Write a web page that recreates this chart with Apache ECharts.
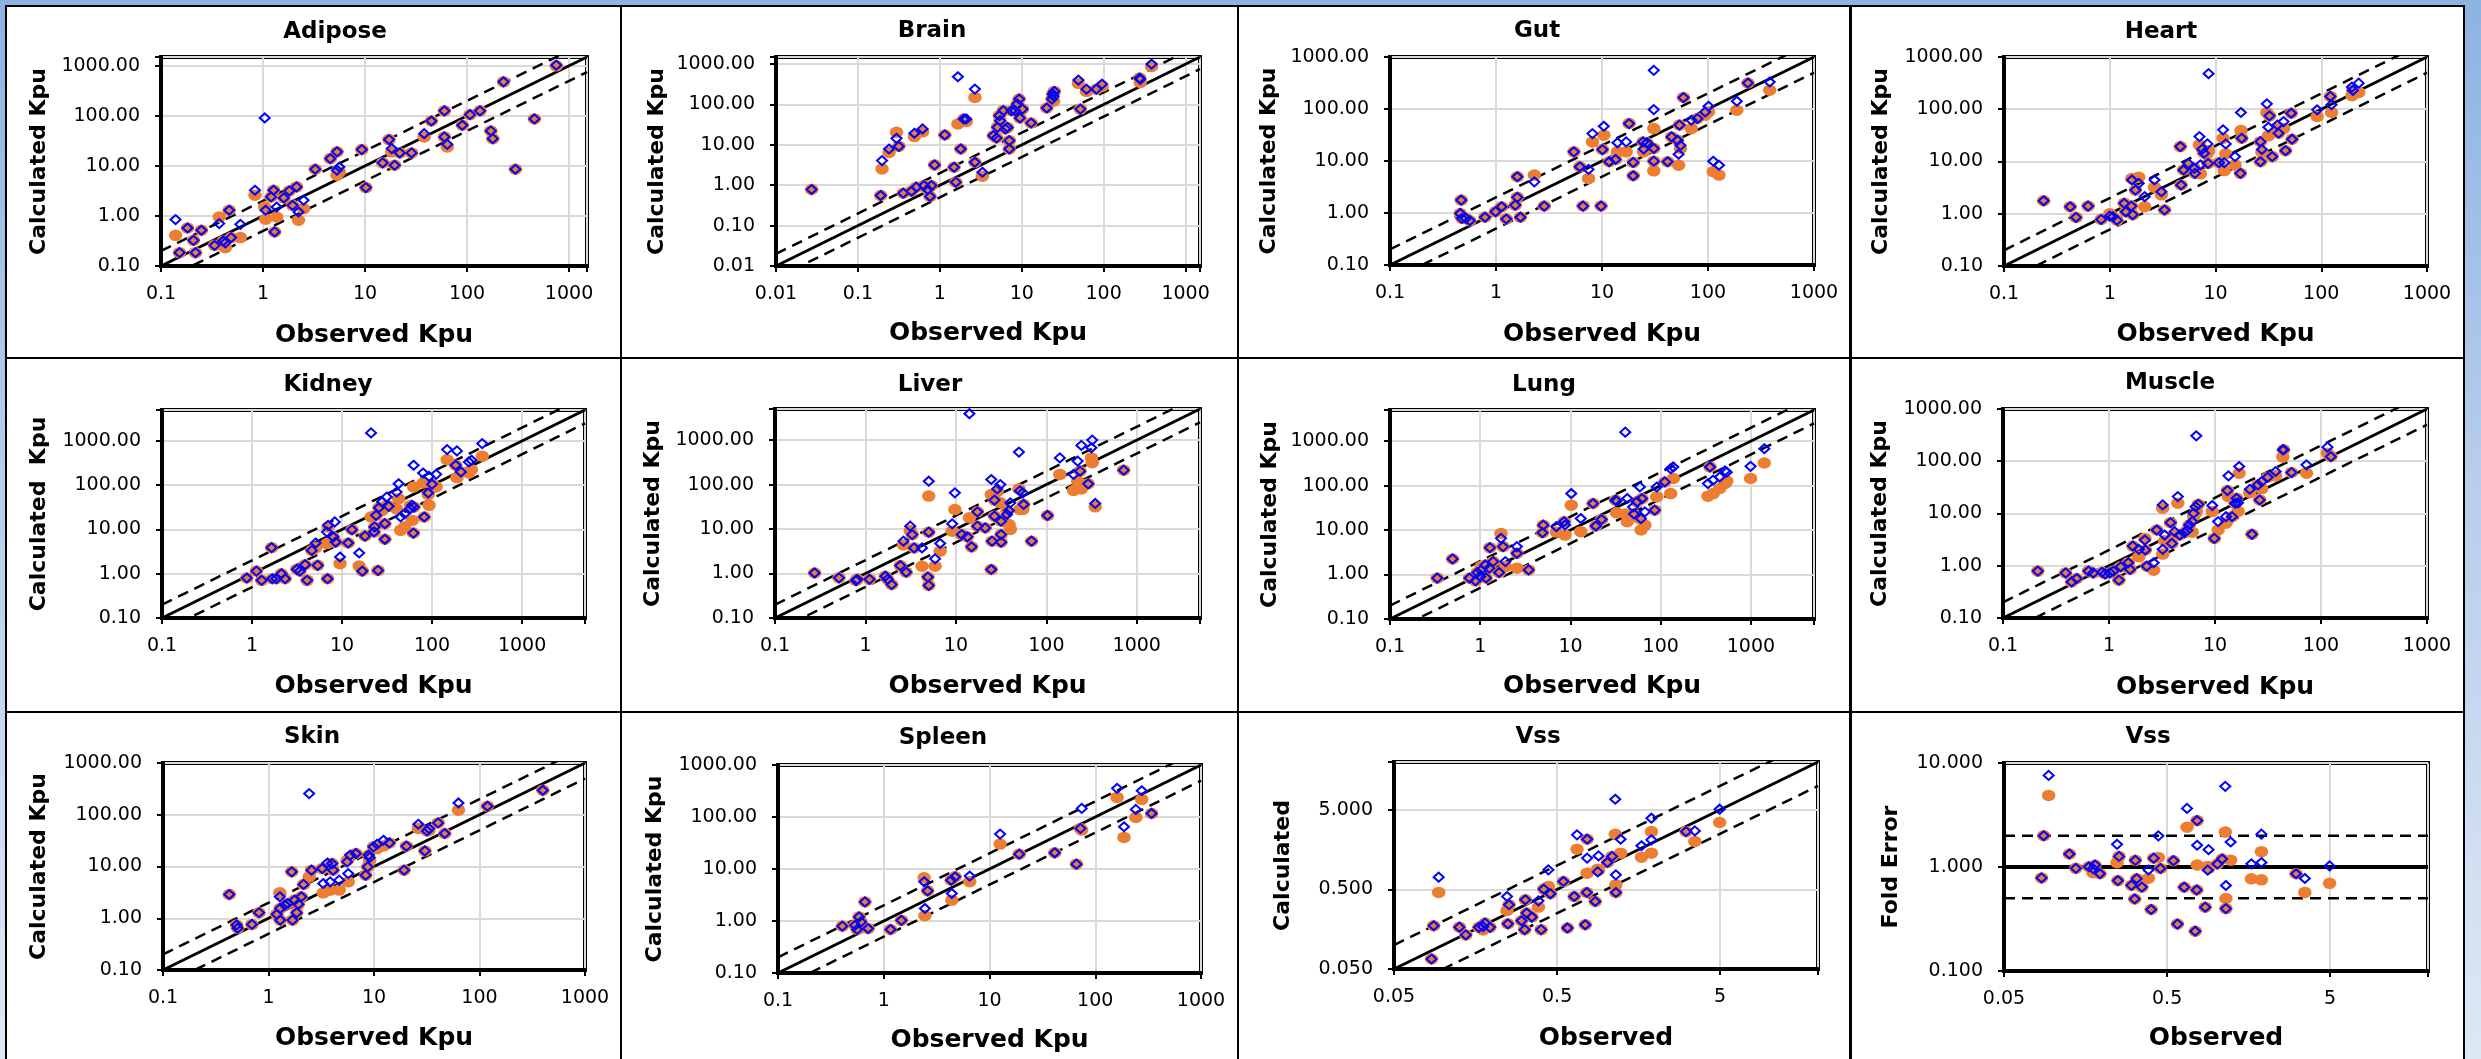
<!DOCTYPE html>
<html>
<head>
<meta charset="utf-8">
<script src="https://cdn.jsdelivr.net/npm/echarts@6/dist/echarts.min.js"></script>
<style>
  html, body { margin: 0; padding: 0; width: 2481px; height: 1059px; overflow: hidden; }
  body { position: relative; background: linear-gradient(to bottom, #8db3e2 0%, #b7cdeb 45%, #dde8f5 100%); }
  .panel { position: absolute; background: #ffffff; border: 2.5px solid #000; box-sizing: border-box; }
  #chart { position: absolute; left: 0; top: 0; width: 2481px; height: 1059px; }
</style>
</head>
<body>
<div id="panels"></div>
<div id="chart"></div>
<script>
// Tissue partition coefficients: each row is [observed Kpu, calculated (circle), calculated (diamond)]
const adipose = [
  [0.139,0.41,0.845],[0.152,0.185,0.185],[0.182,0.575,0.575],[0.208,0.326,0.326],[0.218,0.185,0.185],
  [0.249,0.517,0.517],[0.335,0.259,0.259],[0.372,0.955,0.703],[0.407,0.316,0.316],[0.427,0.233,0.29],
  [0.466,1.30,1.30],[0.487,0.369,0.369],[0.60,0.37,0.68],[0.834,2.59,3.26],[1.04,1.51,91],
  [1.06,0.857,1.30],[1.2,2.4,2.4],[1.27,3.26,3.26],[1.30,0.479,0.479],[1.36,0.955,1.51],
  [1.6,2.29,2.29],[1.81,3.16,3.16],[1.95,1.63,1.63],[2.13,3.8,3.8],[2.23,0.82,1.2],
  [2.5,1.4,2.06],[3.25,8.58,8.58],[4.57,14.0,14.0],[5.32,19.1,19.1],[5.3,6.5,8.2],
  [5.6,7.5,9.5],[9.3,21.2,21.2],[10.2,3.69,3.69],[14.9,11.5,11.5],[17.2,33.6,33.6],
  [18.3,19.1,22.2],[19.5,10.3,10.3],[21.9,18.2,18.2],[28.6,18.2,18.2],[38,38,44],
  [44.7,79,79],[60,126,126],[60,38,38],[64,24,27],[90,65,65],
  [107,106,106],[134,126,126],[171,50,50],[179,35,35],[228,479,479],
  [298,8.58,8.58],[458,87,87],[750,1000,1030]
];
const brain = [
  [0.0272,0.785,0.785],[0.19,0.557,0.557],[0.197,2.54,4.08],[0.24,6.5,7.9],[0.296,20.4,14.5],
  [0.316,9.2,9.2],[0.358,0.637,0.637],[0.452,0.713,0.713],[0.489,16,19.4],[0.517,0.895,0.895],
  [0.616,21,24.8],[0.64,0.98,0.98],[0.71,0.785,0.785],[0.76,0.525,0.525],[0.79,0.98,0.98],
  [0.863,3.19,3.19],[1.15,17.6,17.6],[1.49,2.79,2.79],[1.57,1.19,1.19],[1.66,32.9,487],
  [1.8,7.9,7.9],[1.96,43.7,43.7],[2.1,38,43.7],[2.68,150,241],[2.68,3.72,3.72],
  [3.31,1.67,2.1],[4.51,16.9,16.9],[4.93,14.8,14.8],[5.05,27.2,27.2],[5.33,52.8,52.8],
  [5.45,39.8,39.8],[5.96,70.3,70.3],[6.3,24.8,24.8],[6.7,27,27],[7.05,12.7,12.7],
  [7.05,7.9,7.9],[7.5,70,70],[8.3,70,70],[8.8,103,103],[9.3,136,136],
  [9.5,46.2,46.2],[10.2,77,77],[13,34.8,34.8],[20.2,81.8,81.8],[23.4,136,136],
  [23.9,182,182],[25,211,211],[24.5,120,160],[49.2,330,403],[52,77,77],
  [61.7,210,240],[81.5,240,240],[95.5,280,320],[275,451,451],[280,350,420],
  [385,870,1000]
];
const gut = [
  [0.47,1.77,1.77],[0.46,0.98,0.98],[0.477,0.79,0.79],[0.52,0.79,0.79],[0.567,0.71,0.71],
  [0.787,0.83,0.83],[0.99,1.06,1.06],[1.13,1.32,1.32],[1.25,0.766,0.766],[1.52,1.42,1.42],
  [1.59,4.98,4.98],[1.59,2.0,2.0],[1.7,0.83,0.83],[2.3,5.36,3.98],[2.85,1.36,1.36],
  [5.43,15,15],[6.18,7.74,7.74],[6.62,1.36,1.36],[7.46,4.62,6.9],[8.13,23.3,33.7],
  [9.8,1.36,1.36],[10.1,16.6,16.6],[10.4,31.4,46.6],[11.7,9.66,9.66],[13.4,10.7,10.7],
  [14,15,22.4],[16.9,15,23.3],[18,52.5,52.5],[19.7,9.4,9.4],[19.7,5.2,5.2],
  [24.4,23.3,23.3],[24.7,15,17],[26.6,22.4,22.4],[30.8,42,555],[30.8,6.46,97.5],
  [30.8,17.4,17.4],[30.8,9.93,9.93],[41.6,9.66,9.66],[45.4,29.1,29.1],[51.6,25,25],
  [52.8,8.3,13.5],[53.8,49,49],[58.7,166,166],[55,17.4,20],[69.7,42,60.8],
  [79.5,65.5,65.5],[94,76,88],[101,88,113],[112,6.2,9.9],[127,5.36,8.3],
  [187,94.6,141],[238,316,316],[382,229,331]
];
const heart = [
  [0.237,1.77,1.77],[0.423,1.36,1.36],[0.48,0.85,0.85],[0.624,1.4,1.4],[0.83,0.78,0.78],
  [1.0,1.0,0.9],[1.07,0.875,0.875],[1.17,0.755,0.755],[1.37,1.58,1.58],[1.42,1.09,1.09],
  [1.6,1.4,1.4],[1.62,4.75,4.43],[1.65,0.955,0.955],[1.75,2.84,2.84],[1.88,5.0,3.82],
  [2.14,1.36,2.12],[2.65,3.2,4.43],[3.08,2.3,2.64],[3.3,1.18,1.18],[4.65,19.3,19.3],
  [4.73,3.55,3.55],[4.98,6.87,6.87],[5.53,7.94,9.2],[6.3,7.4,7.4],[6.4,5.94,5.94],
  [7.05,20.8,30],[7.2,5.8,8.6],[7.5,17.2,17.2],[7.8,14.4,14.4],[8.4,14.4,21.7],
  [8.5,9.2,9.2],[8.6,16,479],[10.8,9.5,9.5],[11.8,27.9,40.3],[12.1,6.7,9.5],
  [12.5,14,21.7],[15.3,8.6,12.4],[17.4,39,86.7],[17.7,27.9,27.9],[17.2,5.94,5.94],
  [26.6,24,24],[26.6,9.9,9.9],[27.5,15,17],[30.6,86.7,127],[31.6,31,45.3],
  [32.4,74.8,74.8],[34.4,12.4,12.4],[38.5,43,50],[39.5,34.7,34.7],[44,43,58],
  [46,16.1,16.1],[52,84,84],[53,26.7,26.7],[91.5,72.6,97.5],[122,176,176],
  [125,86.7,122],[195,181,266],[199,229,229],[226,210,316]
];
const kidney = [
  [0.875,0.8,0.8],[1.12,1.15,1.15],[1.28,0.71,0.71],[1.65,3.88,3.88],[1.68,0.77,0.77],
  [1.86,0.77,0.77],[2.12,1.0,1.0],[2.33,0.77,0.77],[3.15,1.26,1.26],[3.4,1.15,1.15],
  [3.89,1.6,1.6],[4.09,0.71,0.71],[4.62,3.37,3.37],[5.1,3.9,4.94],[5.37,1.55,1.55],
  [6.8,4.8,8.8],[6.9,0.77,0.77],[7.0,11.3,12.4],[8.0,6.77,6.77],[8.3,5.2,14.8],
  [8.5,5.2,5.2],[9.5,1.69,2.39],[11.7,4.94,4.94],[12.9,9.9,9.9],[15.5,1.49,2.94],
  [16.8,1.15,1.15],[18,7.1,7.1],[21,19.1,1517],[22.7,8.8,8.8],[23,11.4,11.4],
  [23.9,20.9,20.9],[25.1,1.19,1.19],[25.7,30.9,30.9],[27.8,27,41.7],[29.9,13.5,13.5],
  [29.9,6.0,6.0],[31.4,35,54.2],[33,33.4,33.4],[40.4,29,70],[42.5,49.7,108],
  [44.7,9.55,19.1],[49.5,11.4,22.7],[57.5,35,29.5],[60,16,35],[62.4,91,282],
  [62,8.3,8.3],[63,32,32],[79.4,112,189],[81.8,19.1,19.1],[90.6,62,66.7],
  [92.6,35.1,158],[100,105,105],[111,91,176],[147,378,637],[183,282,282],
  [189,148,594],[209,200,200],[256,189,335],[274,224,366],[361,450,870]
];
const liver = [
  [0.274,1.03,1.03],[0.51,0.8,0.8],[0.787,0.695,0.695],[0.81,0.74,0.74],[1.11,0.74,0.74],
  [1.66,0.87,0.87],[1.76,0.74,0.74],[1.95,0.565,0.565],[2.43,1.51,1.51],[2.63,4.4,5.33],
  [2.82,1.07,1.07],[3.13,9.27,11.6],[3.29,7.5,7.5],[3.45,3.77,3.77],[4.22,1.46,3.77],
  [5.01,55,119],[5.01,8.5,8.5],[4.9,0.83,0.83],[5.01,0.54,0.54],[5.89,1.46,2.14],
  [6.7,3.16,4.73],[9.1,8.96,13.1],[9.75,27.5,65.3],[11.6,7.5,7.5],[13.4,6.68,6.68],
  [14.1,17.9,3917],[14.9,3.98,3.98],[17.3,24.4,24.4],[17.3,11.6,11.6],[21.1,10.6,10.6],
  [24.6,1.23,1.23],[24.6,59.8,130],[25.1,5.33,5.33],[26.7,44.7,44.7],[26.7,19.5,19.5],
  [28.6,70,80],[31,38.9,100],[31.6,15,15],[31.6,7.5,7.5],[31.6,5.07,5.07],
  [36.8,25.1,21.2],[38.7,12.6,26.1],[40,9.8,38.9],[49.8,80,537],[51,27.5,72],
  [55,27.5,65],[56.1,35.7,35.7],[68.7,5.33,5.33],[103,20.2,20.2],[141,169,398],
  [200,73.6,169],[222,119,337],[236,200,200],[244,80,759],[290,104,104],
  [315,398,671],[322,310,1000],[347,31.6,37.6],[716,211,211]
];
const lung = [
  [0.334,0.83,0.83],[0.494,2.24,2.24],[0.762,0.83,0.83],[0.887,0.72,0.72],[0.93,1.11,1.11],
  [1.0,0.9,0.9],[1.02,1.51,1.25],[1.14,1.64,1.64],[1.16,0.84,0.84],[1.26,1.39,1.39],
  [1.28,4.02,4.02],[1.39,1.95,1.95],[1.62,1.11,1.11],[1.7,8.4,6.5],[1.79,4.24,4.24],
  [1.9,1.51,1.95],[2.55,1.39,4.24],[2.55,3.0,3.0],[3.44,1.27,1.27],[4.9,8.7,8.7],
  [5.0,12.9,12.9],[6.97,9,11.9],[8.5,15.4,15.4],[8.7,7.7,13],[10.2,36.3,66.2],
  [13,9.2,18.2],[17.8,39.5,39.5],[19.1,12.3,12.3],[22.1,17.3,17.3],[31.5,47,47],
  [32.5,24.4,45],[40.5,23,1590],[42.6,15.4,51.2],[49.4,20,33],[50.5,23,23],
  [54.7,43,43],[58.8,18,93.3],[60.5,10,18],[62,51,51],[66.8,12.9,25.7],
  [86,28,28],[90.4,55.7,93],[111,121,121],[129,66,240],[138,144,262],
  [334,57.7,111],[352,262,262],[381,66,132],[452,86,156],[515,111,213],
  [540,126,200],[991,144,271],[1407,321,673]
];
const muscle = [
  [0.213,0.79,0.79],[0.39,0.73,0.73],[0.444,0.49,0.49],[0.496,0.57,0.57],[0.641,0.79,0.79],
  [0.71,0.73,0.73],[0.86,0.75,0.75],[0.92,0.7,0.7],[1.02,0.73,0.73],[1.1,0.79,0.79],
  [1.24,0.53,0.53],[1.29,0.955,0.955],[1.52,1.14,1.14],[1.58,0.85,0.85],[1.68,2.38,2.38],
  [1.91,1.49,2.06],[2.18,3.34,3.1],[2.2,2.0,2.0],[2.27,0.98,0.98],[2.64,0.82,1.14],
  [2.82,4.83,4.83],[3.21,12.6,14.6],[3.21,1.67,2.06],[3.35,3.0,3.87],[3.81,6.68,6.68],
  [3.92,2.68,2.68],[4.16,4.0,4.49],[4.46,15.7,21.1],[4.65,3.87,3.87],[5.15,4.3,4.3],
  [5.5,4.8,4.8],[6.1,4.4,7.0],[5.71,6.03,6.03],[6.28,8.7,10.1],[6.56,10.1,13.5],
  [6.66,11,307],[6.97,15,15],[9.42,10.9,14.2],[9.85,3.34,3.34],[10.7,4.83,7.0],
  [12.7,6.5,8.7],[13.1,27.5,27.5],[13.4,21,52.5],[14.5,8.7,8.7],[15.5,15.7,15.7],
  [16,19.5,19.5],[16.5,11,16],[16.9,59,79.4],[21.3,25,29.1],[22.3,4.0,4.0],
  [25.4,35.3,35.3],[26.4,18.2,18.2],[27.6,30,40.8],[31.4,49.5,49.5],[37.3,52.5,63.7],
  [43.6,120,166],[44.4,166,166],[52.7,60.8,60.8],[73,59,85.5],[115,143,186],
  [124,123,123]
];
const skin = [
  [0.425,2.88,2.88],[0.498,0.74,0.74],[0.51,0.64,0.64],[0.697,0.76,0.76],[0.813,1.28,1.28],
  [1.2,1.19,1.19],[1.28,3.1,2.6],[1.29,1.55,1.55],[1.29,0.92,0.92],[1.43,1.8,1.8],
  [1.52,1.93,1.93],[1.66,7.9,7.9],[1.69,0.92,0.92],[1.77,2.24,2.24],[1.85,1.28,1.28],
  [1.92,1.87,1.87],[2.05,2.6,2.6],[2.15,4.5,4.5],[2.43,6.3,256],[2.56,8.5,8.5],
  [3.23,9.1,9.1],[3.3,3.1,4.7],[3.61,3.5,11.7],[3.84,3.5,5.06],[4.01,11.4,11.4],
  [4.1,8.5,8.5],[4.68,3.5,5.44],[5.56,13,12.3],[5.7,5.06,7.3],[5.95,15.4,16.6],
  [6.73,17.8,17.8],[8.33,6.8,6.8],[8.71,9.86,9.86],[8.9,16.6,16.6],[9.1,13,15],
  [9.9,24,24],[10.7,22,26.9],[12.3,25,32.2],[14,28.6,28.6],[19.3,8.5,8.5],
  [20.3,24.7,24.7],[26.3,54.1,65.6],[30.4,20,20],[31.8,48.7,48.7],[33.3,50,54],
  [40.5,69.5,69.5],[46.8,43.4,43.4],[63.2,122,169],[119,146,146],[398,297,297]
];
const spleen = [
  [0.406,0.795,0.795],[0.536,0.83,0.83],[0.56,0.686,0.686],[0.584,1.2,1.2],[0.61,0.96,0.96],
  [0.664,2.33,2.33],[0.711,0.716,0.716],[1.16,0.686,0.686],[1.47,1.03,1.03],[2.41,6.76,5.68],
  [2.45,1.26,1.74],[2.6,3.8,3.8],[4.34,6.1,6.1],[4.4,2.51,3.38],[4.73,7.08,7.08],
  [6.5,5.68,7.3],[12.6,30.1,46.9],[19.1,19.3,19.3],[41.4,20.5,20.5],[66.4,12.4,12.4],
  [72.4,60.3,60.3],[74.5,56,146],[161,238,356],[187,40.5,65],[242,98,140],
  [275,218,320],[341,117,117]
];
// Volume of distribution at steady state: [observed, calculated (circle), calculated (diamond)]
const vss = [
  [0.085,0.0668,0.0668],[0.0876,0.175,0.175],[0.094,0.459,0.714],[0.126,0.168,0.168],[0.138,0.134,0.134],
  [0.166,0.167,0.167],[0.176,0.155,0.17],[0.181,0.189,0.189],[0.194,0.167,0.167],[0.247,0.272,0.408],
  [0.254,0.321,0.321],[0.25,0.185,0.185],[0.303,0.202,0.202],[0.317,0.156,0.156],[0.32,0.371,0.371],
  [0.326,0.252,0.252],[0.351,0.225,0.225],[0.385,0.3,0.36],[0.4,0.156,0.156],[0.415,0.505,0.505],
  [0.443,0.546,0.883],[0.456,0.441,0.441],[0.548,0.63,0.63],[0.58,0.164,0.164],[0.638,0.408,0.408],
  [0.664,1.6,2.43],[0.746,0.18,0.18],[0.762,0.458,0.458],[0.766,2.14,2.14],[0.766,0.801,1.24],
  [0.859,0.353,0.353],[0.89,0.9,0.83],[0.9,0.87,1.32],[1.02,1.09,1.09],[1.09,1.3,1.3],
  [1.14,2.47,6.8],[1.15,0.458,0.458],[1.15,0.572,0.764],[1.23,1.43,2.14],[1.65,1.27,1.77],
  [1.9,2.67,3.93],[1.9,1.43,2.1],[3.1,2.67,2.67],[3.51,2.0,2.72],[4.98,3.47,5.1]
];

const panelTitles = ['Adipose','Brain','Gut','Heart','Kidney','Liver','Lung','Muscle','Skin','Spleen','Vss','Vss'];
const xAxisNames = ['Observed Kpu','Observed Kpu','Observed Kpu','Observed Kpu','Observed Kpu','Observed Kpu',
                    'Observed Kpu','Observed Kpu','Observed Kpu','Observed Kpu','Observed','Observed'];
const yAxisNames = ['Calculated Kpu','Calculated Kpu','Calculated Kpu','Calculated Kpu','Calculated  Kpu','Calculated Kpu',
                    'Calculated Kpu','Calculated Kpu','Calculated Kpu','Calculated Kpu','Calculated','Fold Error'];
const xRanges = [[0.1,1500],[0.01,1500],[0.1,1000],[0.1,1000],[0.1,5000],[0.1,5000],
                 [0.1,5000],[0.1,1000],[0.1,1000],[0.1,1000],[0.05,20],[0.05,20]];
const yRanges = [[0.1,1500],[0.01,1500],[0.1,1000],[0.1,1000],[0.1,5000],[0.1,5000],
                 [0.1,5000],[0.1,1000],[0.1,1000],[0.1,1000],[0.05,20],[0.1,10]];
const yLabelDecimals = [2,2,2,2,2,2,2,2,2,2,3,3];
// line of unity and the two-fold limits
const foldLines = [0.5, 1, 2];

// ---- layout (pixels) ----
const panelBoxes = [
  [5,5,618,354],[620,5,620,354],[1237,5,614,354],[1850,5,615,354],
  [5,357,618,356],[620,357,620,356],[1237,357,614,356],[1850,357,615,356],
  [5,711,618,360],[620,711,620,360],[1237,711,614,360],[1850,711,615,360]
];
const plotRects = [
  [161,57,426,209],[776,57,424,209],[1390,57,424,208],[2004,57,423,209],
  [162,410,423,208],[775,409,425,209],[1390,410,424,209],[2003,409,424,209],
  [163,763,422,207],[778,765,423,208],[1394,762,424,207],[2004,763,424,208]
];
const titlePos = [[335,32],[932,31],[1537,31],[2161,32],[328,385],[930,385],[1544,385],[2170,383],
                  [312,737],[943,738],[1538,737],[2148,737]];
const yNameOffset = [121.5,118.4,121,122.3,122.5,121.8,119.8,123.2,123.5,122.4,110.5,112.4];
const xNameOffset = [71,69,71,70,69.6,70,69,70.6,70,69,70.7,69.3];

const FONT = "'DejaVu Sans', sans-serif";
const ORANGE = '#ED7D31';
const BLUE = '#0000FF';

// panel frames
const panelHost = document.getElementById('panels');
panelBoxes.forEach(([l, t, w, h]) => {
  const d = document.createElement('div');
  d.className = 'panel';
  d.style.left = l + 'px'; d.style.top = t + 'px';
  d.style.width = w + 'px'; d.style.height = h + 'px';
  panelHost.appendChild(d);
});

const tissues = [adipose, brain, gut, heart, kidney, liver, lung, muscle, skin, spleen, vss];

function isDecadeStep(v, base) {
  const k = Math.log10(v / base);
  return Math.abs(k - Math.round(k)) < 0.02;
}
function snap(v) { return Number(v.toPrecision(1)); }

const grids = [], xAxes = [], yAxes = [], series = [], titles = [];

for (let i = 0; i < 12; i++) {
  const [l, t, w, h] = plotRects[i];
  grids.push({ left: l, top: t, width: w, height: h, show: true, borderColor: '#000', borderWidth: 4,
               backgroundColor: 'transparent', containLabel: false, outerBoundsMode: 'none' });

  const [xmin, xmax] = xRanges[i];
  const [ymin, ymax] = yRanges[i];
  const dec = yLabelDecimals[i];

  xAxes.push({
    gridIndex: i, type: 'log', logBase: 10, min: xmin, max: xmax, interval: 1,
    name: xAxisNames[i], nameLocation: 'middle', nameGap: xNameOffset[i] - 14,
    nameTextStyle: { fontFamily: FONT, fontWeight: 'bold', fontSize: 25, color: '#000' },
    axisLine: { show: true, onZero: false, lineStyle: { color: '#000', width: 4 } },
    axisTick: { show: true, inside: false, length: 6, lineStyle: { color: '#000', width: 2 } },
    axisLabel: { show: true, margin: 19, fontFamily: FONT, fontSize: 19, color: '#000',
                 formatter: v => isDecadeStep(v, xmin) ? String(snap(v)) : '' },
    splitLine: { show: true, lineStyle: { color: '#d9d9d9', width: 2 } },
    minorTick: { show: false }, minorSplitLine: { show: false }
  });
  yAxes.push({
    gridIndex: i, type: 'log', logBase: 10, min: ymin, max: ymax, interval: 1,
    name: yAxisNames[i], nameLocation: 'middle', nameGap: yNameOffset[i] - 11, nameRotate: 90,
    nameTextStyle: { fontFamily: FONT, fontWeight: 'bold', fontSize: 22, color: '#000' },
    axisLine: { show: true, onZero: false, lineStyle: { color: '#000', width: 4 } },
    axisTick: { show: true, inside: false, length: 6, lineStyle: { color: '#000', width: 2 } },
    axisLabel: { show: true, margin: 21, fontFamily: FONT, fontSize: 19, color: '#000',
                 formatter: v => isDecadeStep(v, ymin) ? snap(v).toFixed(dec) : '' },
    splitLine: { show: true, lineStyle: { color: '#d9d9d9', width: 2 } },
    minorTick: { show: false }, minorSplitLine: { show: false }
  });

  titles.push({
    text: panelTitles[i], left: titlePos[i][0], top: titlePos[i][1], padding: 0,
    textAlign: 'center', textVerticalAlign: 'middle',
    textStyle: { fontFamily: FONT, fontWeight: 'bold', fontSize: 23, color: '#000' }
  });

  // reference lines: unity and two-fold
  const isFoldErrorPanel = (i === 11);
  foldLines.forEach(f => {
    const data = isFoldErrorPanel ? [[xmin, f], [xmax, f]] : [[xmin, f * xmin], [xmax, f * xmax]];
    series.push({
      type: 'line', xAxisIndex: i, yAxisIndex: i, data, symbol: 'none', silent: true, clip: true, z: 1,
      lineStyle: f === 1
        ? { color: '#000', width: isFoldErrorPanel ? 4 : 3, type: 'solid' }
        : { color: '#000', width: 2.5, type: [11, 7] }
    });
  });

  // points
  const rows = isFoldErrorPanel ? vss : tissues[i];
  const circles = isFoldErrorPanel ? rows.map(r => [r[0], r[1] / r[0]]) : rows.map(r => [r[0], r[1]]);
  const diamonds = isFoldErrorPanel ? rows.map(r => [r[0], r[2] / r[0]]) : rows.map(r => [r[0], r[2]]);
  series.push({
    type: 'scatter', xAxisIndex: i, yAxisIndex: i, data: circles, symbol: 'circle',
    symbolSize: [13.5, 11.5], itemStyle: { color: ORANGE, opacity: 1 }, silent: true, z: 3
  });
  series.push({
    type: 'scatter', xAxisIndex: i, yAxisIndex: i, data: diamonds, symbol: 'diamond',
    symbolSize: [10, 9], itemStyle: { color: 'rgba(0,0,0,0)', borderColor: BLUE, borderWidth: 2, opacity: 1 },
    silent: true, z: 4
  });
}

const chart = echarts.init(document.getElementById('chart'), null, { renderer: 'canvas' });
chart.setOption({
  backgroundColor: 'transparent',
  animation: false,
  title: titles,
  grid: grids,
  xAxis: xAxes,
  yAxis: yAxes,
  tooltip: { show: false },
  series
});
</script>
</body>
</html>
